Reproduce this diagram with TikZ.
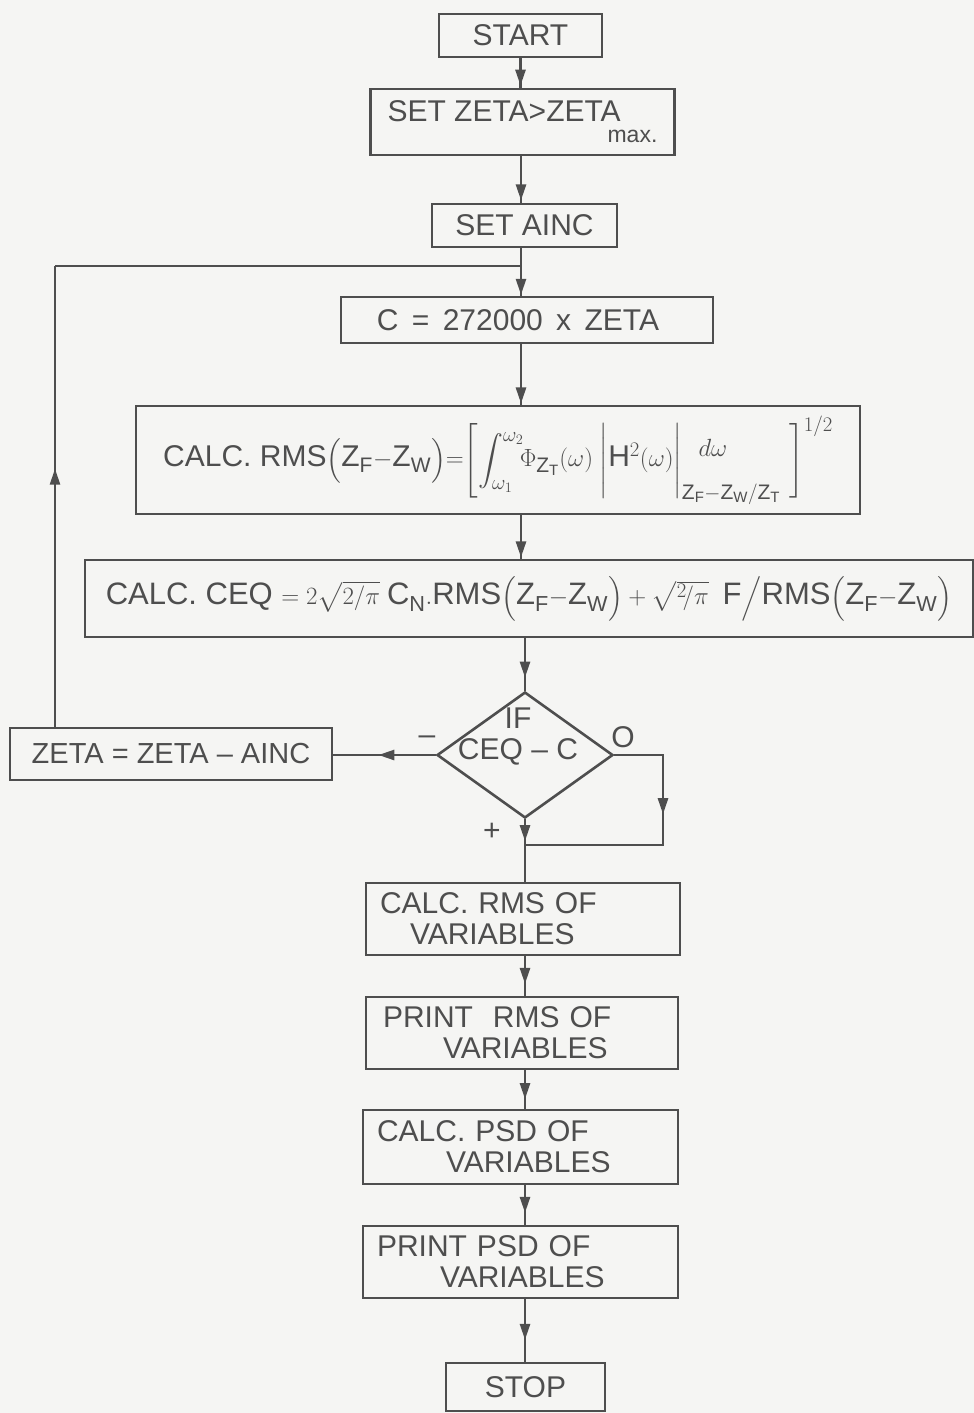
\documentclass[tikz,border=0pt]{standalone}
\usepackage{fontspec}
\setmainfont{Liberation Sans}
\usepackage{amsmath}
\usetikzlibrary{arrows.meta,shapes.geometric,decorations.markings,calc}
\definecolor{ink}{RGB}{78,78,78}
\definecolor{paper}{RGB}{245,245,243}
\tikzset{
  box/.style={draw=ink, line width=2.6pt, rectangle, inner sep=0pt, text=ink,
    font=\fontsize{30}{31}\selectfont},
  lbl/.style={text=ink, font=\fontsize{30}{31}\selectfont, inner sep=0pt},
  conn/.style={draw=ink, color=ink, line width=2.6pt},
  tipat/.style={decoration={markings, mark=at position #1 with {\arrow{Triangle[length=16pt,width=10pt]}}}, postaction={decorate}},
}
\begin{document}
\begin{tikzpicture}[x=1pt,y=-1pt]
\fill[paper] (0,0) rectangle (974,1413);
\useasboundingbox (0,0) rectangle (974,1413);

% nodes
\node[box, minimum width=163pt, minimum height=43pt] (start) at (520.5,35.5) {START};
\node[box, minimum width=304pt, minimum height=66pt, align=left] (zeta) at (522.5,122)
  {SET ZETA>ZETA\\[-10pt]\hspace*{220pt}{\fontsize{23}{24}\selectfont max.}};
\node[box, minimum width=185pt, minimum height=43pt] (ainc) at (524.5,225.5) {SET AINC};
\node[box, minimum width=372pt, minimum height=46pt] (c) at (527,320) {\hspace*{-18pt}C\ \,=\ \,272000\ \,x\ \,ZETA};
\node[box, minimum width=724pt, minimum height=108pt] (rms) at (498,460)
  {CALC. RMS$\Bigl(\mathrm{Z_F{-}Z_W}\Bigr){=}\Biggl[\displaystyle\int_{\omega_1}^{\omega_2}\!\!\Phi_{\mathrm{Z_T}}(\omega)\;\Biggl|\mathrm{H}^{2}(\omega)\Biggr|_{\mathrm{Z_F-Z_W/Z_T}}\hspace{-82pt}\raisebox{10pt}{$d\omega$}\hspace{62pt}\Biggr]^{1/2}$};
\node[box, minimum width=888pt, minimum height=77pt, font=\fontsize{31}{32}\selectfont] (ceq) at (529,598.5)
  {CALC. CEQ $= 2\sqrt{2/\pi}\;\mathrm{C_N}.\mathrm{RMS}\Bigl(\mathrm{Z_F{-}Z_W}\Bigr) + \sqrt{{}^{2}\!/\pi}\;\;\mathrm{F}\Big/\mathrm{RMS}\Bigl(\mathrm{Z_F{-}Z_W}\Bigr)$};
\node[draw=ink, line width=2.6pt, diamond, minimum width=176pt, minimum height=126pt, inner sep=0pt] (dec) at (525,755) {};
\node[lbl, align=center] (dect) at (518,737) {IF\\CEQ – C};
\node[box, minimum width=322pt, minimum height=52pt, font=\fontsize{29}{31}\selectfont] (zmin) at (171,754) {ZETA = ZETA – AINC};
\node[box, minimum width=314pt, minimum height=72pt, text width=286pt, inner xsep=14pt, align=left] (rv) at (523,919)
  {CALC. RMS OF\\\hspace*{30pt}VARIABLES};
\node[box, minimum width=312pt, minimum height=72pt, text width=278pt, inner xsep=17pt, align=left] (prv) at (522,1033)
  {PRINT\ \ RMS OF\\\hspace*{60pt}VARIABLES};
\node[box, minimum width=315pt, minimum height=74pt, text width=287pt, inner xsep=14pt, align=left] (cpsd) at (520.5,1147)
  {CALC. PSD OF\\\hspace*{69pt}VARIABLES};
\node[box, minimum width=315pt, minimum height=72pt, text width=287pt, inner xsep=14pt, align=left] (ppsd) at (520.5,1262)
  {PRINT PSD OF\\\hspace*{63pt}VARIABLES};
\node[box, minimum width=159pt, minimum height=48pt] (stop) at (525.5,1387) {STOP};

% labels on branches
\node[lbl] (lminus) at (427,740) {–};
\node[lbl] (lzero) at (623,737) {O};
\node[lbl] (lplus) at (492,832) {+};

% helper coordinates
\coordinate (j) at (521,266);
\coordinate (lx) at (55,266);
\coordinate (sp) at (525,0);
\coordinate (rx) at (663,0);
\coordinate (mrg) at (525,845);

% connectors
\draw[conn, tipat=0.93] (start.south) -- (start.south |- zeta.north);
\draw[conn, tipat=0.95] (zeta.south -| j) -- (j |- ainc.north);
\draw[conn] (ainc.south -| j) -- (j);
\draw[conn, tipat=0.97] (j) -- (j |- c.north);
\draw[conn, tipat=0.56] (zmin.north -| lx) -- (lx);
\draw[conn] (lx) -- (j);
\draw[conn, tipat=0.98] (c.south -| j) -- (j |- rms.north);
\draw[conn, tipat=0.97] (rms.south -| j) -- (j |- ceq.north);
\draw[conn, tipat=0.75] (ceq.south -| dec.north) -- (dec.north);
\draw[conn, tipat=0.56] (dec.west) -- (zmin.east |- dec.west);
\draw[conn, tipat=0.39] (dec.east) -- (rx |- dec.east) -- (rx |- mrg) -- (mrg);
\draw[conn, tipat=0.35] (dec.south) -- (dec.south |- rv.north);
\draw[conn, tipat=0.7] (rv.south -| sp) -- (sp |- prv.north);
\draw[conn, tipat=0.75] (prv.south -| sp) -- (sp |- cpsd.north);
\draw[conn, tipat=0.7] (cpsd.south -| sp) -- (sp |- ppsd.north);
\draw[conn, tipat=0.65] (ppsd.south -| sp) -- (sp |- stop.north);
\end{tikzpicture}
\end{document}
